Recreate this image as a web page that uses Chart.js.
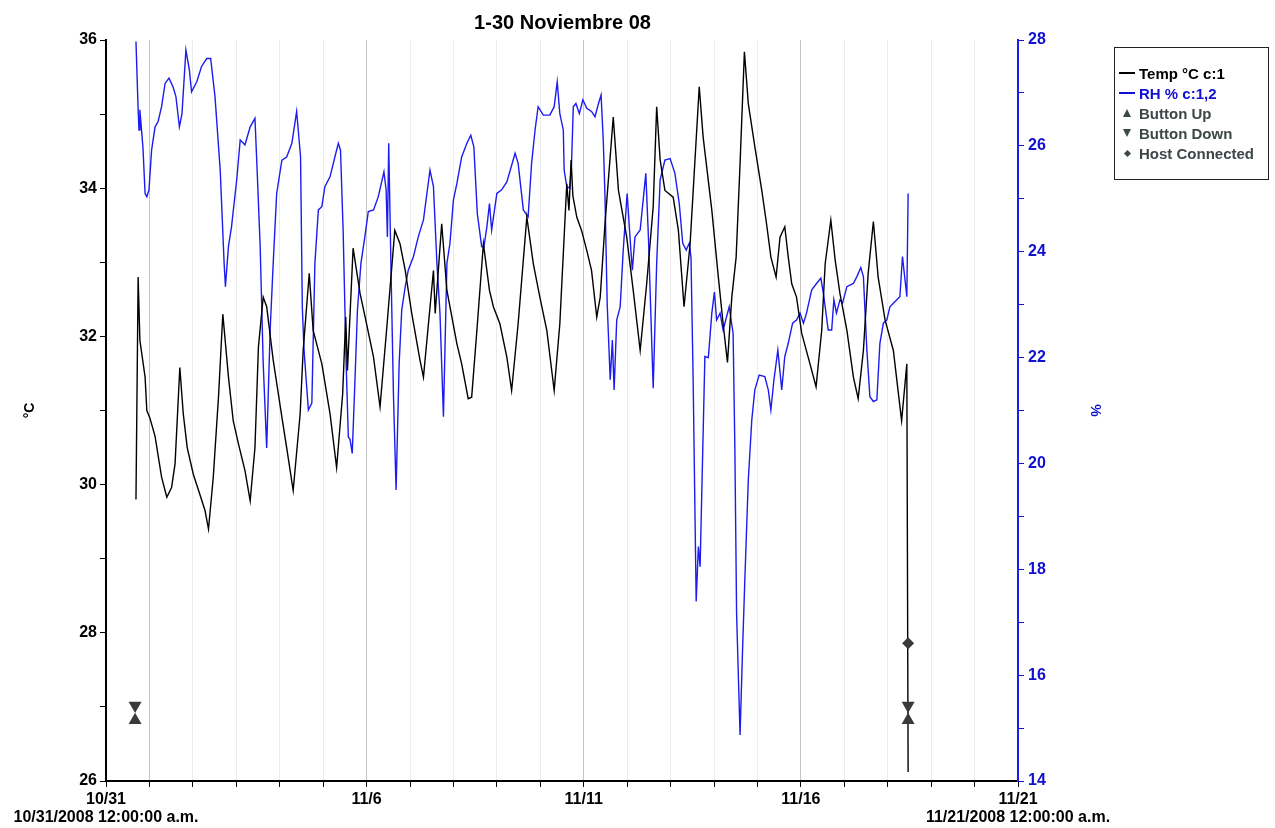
<!DOCTYPE html>
<html>
<head>
<meta charset="utf-8">
<title>1-30 Noviembre 08</title>
<script src="https://cdn.jsdelivr.net/npm/chart.js@4.4.1/dist/chart.umd.min.js"></script>
<style>
  body { margin: 0; background: #fff; }
  #wrap { position: relative; width: 1275px; height: 828px; }
  #legend {
    position: absolute; left: 1114px; top: 47px; width: 155px; height: 133px;
    box-sizing: border-box; border: 1px solid #222; padding-top: 15px;
    font: bold 15px "Liberation Sans", Arial, sans-serif;
  }
  .row { display: flex; align-items: center; height: 20px; white-space: nowrap; }
  .sym { width: 24px; display: flex; justify-content: center; align-items: center; }
  .dash { width: 16px; height: 2px; }
  .tri-up { width: 0; height: 0; border-left: 4px solid transparent; border-right: 4px solid transparent; border-bottom: 8px solid #3d4747; }
  .tri-down { width: 0; height: 0; border-left: 4px solid transparent; border-right: 4px solid transparent; border-top: 8px solid #3d4747; }
  .diamond { width: 5px; height: 5px; background: #3d4747; transform: rotate(45deg); }
</style>
</head>
<body>
<div id="wrap">
  <canvas id="loggerChart" width="1275" height="828"></canvas>
  <div id="legend">
    <div class="row" style="color:#000"><span class="sym"><span class="dash" style="background:#000"></span></span>Temp °C c:1</div>
    <div class="row" style="color:#1010d0"><span class="sym"><span class="dash" style="background:#1010d0"></span></span>RH % c:1,2</div>
    <div class="row" style="color:#3d4747"><span class="sym"><span class="tri-up"></span></span>Button Up</div>
    <div class="row" style="color:#3d4747"><span class="sym"><span class="tri-down"></span></span>Button Down</div>
    <div class="row" style="color:#3d4747"><span class="sym"><span class="diamond"></span></span>Host Connected</div>
  </div>
</div>
<script>
// x values are days elapsed since 10/31/2008 12:00:00 a.m.
const tempDays = [0.69, 0.74, 0.78, 0.90, 0.94, 1.01, 1.13, 1.28, 1.40, 1.51,
  1.59, 1.70, 1.78, 1.87, 2.01, 2.16, 2.28, 2.36, 2.47, 2.59,
  2.69, 2.82, 2.93, 3.05, 3.20, 3.32, 3.43, 3.51, 3.62, 3.70,
  3.85, 4.05, 4.16, 4.31, 4.47, 4.54, 4.68, 4.77, 4.97, 5.16,
  5.31, 5.45, 5.52, 5.56, 5.69, 5.85, 6.00, 6.16, 6.31, 6.46,
  6.65, 6.77, 6.89, 7.04, 7.23, 7.31, 7.54, 7.58, 7.73, 7.85,
  8.08, 8.19, 8.34, 8.42, 8.54, 8.69, 8.83, 8.92, 9.07, 9.23,
  9.34, 9.49, 9.69, 9.84, 9.99, 10.15, 10.32, 10.45, 10.61, 10.66,
  10.71, 10.75, 10.84, 10.95, 11.07, 11.18, 11.30, 11.38, 11.49, 11.68,
  11.80, 11.99, 12.14, 12.30, 12.45, 12.60, 12.68, 12.76, 12.87, 13.06,
  13.18, 13.31, 13.45, 13.66, 13.75, 13.95, 14.10, 14.21, 14.31, 14.41,
  14.51, 14.60, 14.70, 14.79, 14.94, 15.10, 15.21, 15.31, 15.43, 15.52,
  15.63, 15.71, 15.79, 15.90, 16.02, 16.21, 16.35, 16.48, 16.56, 16.69,
  16.79, 16.90, 17.06, 17.21, 17.32, 17.44, 17.55, 17.67, 17.78, 17.94,
  18.13, 18.22, 18.32, 18.44, 18.47];

const tempValues = [29.8, 32.8, 31.95, 31.45, 31.0, 30.9, 30.65, 30.1, 29.83, 29.96,
  30.28, 31.58, 30.95, 30.5, 30.14, 29.87, 29.65, 29.4, 30.1, 31.18,
  32.3, 31.45, 30.86, 30.55, 30.19, 29.78, 30.5, 31.86, 32.53, 32.4,
  31.68, 30.91, 30.5, 29.92, 30.95, 31.81, 32.85, 32.08, 31.63, 30.95,
  30.23, 31.23, 32.26, 31.54, 33.19, 32.58, 32.17, 31.72, 31.05, 32.08,
  33.43, 33.25, 32.89, 32.31, 31.68, 31.45, 32.89, 32.31, 33.52, 32.62,
  31.9, 31.63, 31.16, 31.18, 32.08, 33.25, 32.62, 32.4, 32.17, 31.72,
  31.27, 32.17, 33.61, 32.98, 32.53, 32.08, 31.27, 32.17, 34.06, 33.7,
  34.38, 33.9, 33.61, 33.43, 33.16, 32.89, 32.26, 32.53, 33.52, 34.96,
  33.97, 33.34, 32.62, 31.81, 32.71, 33.75, 35.1, 34.38, 33.97, 33.88,
  33.43, 32.4, 33.25, 35.37, 34.69, 33.7, 32.8, 32.17, 31.65, 32.53,
  33.07, 34.33, 35.84, 35.14, 34.56, 33.97, 33.52, 33.07, 32.8, 33.34,
  33.48, 33.07, 32.71, 32.53, 32.04, 31.63, 31.32, 32.08, 32.98, 33.57,
  33.03, 32.58, 32.08, 31.45, 31.16, 31.81, 32.85, 33.55, 32.8, 32.22,
  31.81, 31.36, 30.86, 31.63, 26.12];

const rhDays = [0.69, 0.74, 0.76, 0.78, 0.85, 0.90, 0.94, 0.99, 1.05, 1.13,
  1.20, 1.28, 1.36, 1.45, 1.54, 1.61, 1.69, 1.75, 1.84, 1.92,
  1.97, 2.09, 2.20, 2.32, 2.41, 2.51, 2.63, 2.72, 2.75, 2.82,
  2.89, 3.01, 3.09, 3.20, 3.32, 3.43, 3.48, 3.55, 3.62, 3.70,
  3.78, 3.85, 3.93, 4.05, 4.16, 4.28, 4.39, 4.48, 4.52, 4.56,
  4.66, 4.74, 4.81, 4.89, 4.97, 5.04, 5.16, 5.27, 5.35, 5.40,
  5.46, 5.53, 5.58, 5.62, 5.67, 5.73, 5.79, 5.87, 5.96, 6.04,
  6.16, 6.27, 6.40, 6.45, 6.48, 6.51, 6.56, 6.62, 6.68, 6.75,
  6.81, 6.89, 6.96, 7.08, 7.19, 7.31, 7.46, 7.54, 7.62, 7.69,
  7.77, 7.85, 7.92, 8.00, 8.08, 8.19, 8.31, 8.40, 8.47, 8.55,
  8.65, 8.70, 8.77, 8.83, 8.88, 9.00, 9.11, 9.23, 9.42, 9.49,
  9.61, 9.72, 9.80, 9.88, 9.95, 10.07, 10.22, 10.32, 10.39, 10.45,
  10.53, 10.55, 10.61, 10.68, 10.72, 10.76, 10.82, 10.90, 10.98, 11.07,
  11.18, 11.26, 11.34, 11.40, 11.45, 11.49, 11.54, 11.61, 11.66, 11.70,
  11.76, 11.84, 11.91, 12.00, 12.08, 12.12, 12.18, 12.30, 12.43, 12.49,
  12.60, 12.68, 12.76, 12.87, 12.99, 13.10, 13.20, 13.28, 13.36, 13.43,
  13.47, 13.52, 13.59, 13.64, 13.68, 13.79, 13.87, 13.95, 14.01, 14.06,
  14.14, 14.21, 14.35, 14.44, 14.48, 14.52, 14.60, 14.66, 14.71, 14.79,
  14.87, 14.94, 15.04, 15.17, 15.25, 15.31, 15.38, 15.47, 15.56, 15.63,
  15.71, 15.81, 15.90, 15.98, 16.06, 16.13, 16.25, 16.36, 16.46, 16.52,
  16.63, 16.71, 16.76, 16.82, 16.90, 16.96, 17.06, 17.21, 17.29, 17.38,
  17.44, 17.52, 17.59, 17.67, 17.75, 17.82, 17.90, 17.98, 18.05, 18.17,
  18.28, 18.34, 18.44, 18.47];

const rhValues = [27.97, 26.68, 26.3, 26.68, 25.98, 25.1, 25.04, 25.17, 25.92, 26.36,
  26.46, 26.74, 27.18, 27.28, 27.12, 26.93, 26.36, 26.61, 27.81, 27.43,
  27.02, 27.21, 27.5, 27.65, 27.65, 26.93, 25.54, 23.78, 23.34, 24.1,
  24.47, 25.36, 26.11, 26.02, 26.36, 26.52, 25.54, 24.1, 21.89, 20.29,
  22.52, 23.78, 25.1, 25.73, 25.79, 26.05, 26.65, 25.79, 22.96, 22.14,
  21.01, 21.14, 23.78, 24.79, 24.85, 25.23, 25.42, 25.79, 26.05, 25.92,
  24.41, 21.89, 20.5, 20.45, 20.19, 21.51, 22.9, 23.78, 24.28, 24.76,
  24.79, 25.04, 25.51, 25.17, 24.28, 26.05, 23.78, 21.26, 19.5, 21.89,
  22.9, 23.34, 23.65, 23.91, 24.28, 24.6, 25.54, 25.23, 23.78, 22.84,
  20.88, 23.78, 24.16, 24.98, 25.29, 25.79, 26.05, 26.2, 25.98, 24.72,
  24.1, 24.08, 24.47, 24.91, 24.41, 25.1, 25.17, 25.32, 25.86, 25.67,
  24.79, 24.66, 25.67, 26.3, 26.74, 26.58, 26.58, 26.74, 27.21, 26.61,
  26.3, 25.54, 25.23, 25.2, 25.67, 26.74, 26.8, 26.61, 26.87, 26.71,
  26.65, 26.55, 26.8, 26.96, 26.11, 25.04, 23.03, 21.58, 22.33, 21.39,
  22.71, 22.96, 24.03, 25.1, 24.1, 23.65, 24.28, 24.41, 25.48, 24.28,
  21.42, 23.78, 25.36, 25.73, 25.76, 25.48, 24.91, 24.16, 24.03, 24.16,
  23.9, 21.58, 17.39, 18.43, 18.05, 22.02, 22.0, 22.84, 23.24, 22.71,
  22.84, 22.52, 22.96, 22.46, 20.32, 17.17, 14.87, 16.54, 17.8, 19.69,
  20.82, 21.39, 21.67, 21.64, 21.39, 21.01, 21.58, 22.14, 21.39, 22.02,
  22.27, 22.65, 22.71, 22.84, 22.65, 22.84, 23.28, 23.4, 23.5, 23.21,
  22.52, 22.52, 23.09, 22.84, 23.09, 23.03, 23.34, 23.4, 23.53, 23.7,
  23.53, 22.14, 21.26, 21.17, 21.2, 22.27, 22.65, 22.71, 22.96, 23.06,
  23.15, 23.91, 23.15, 25.1];

// logger events, plotted on the temperature axis
const buttonUpDays = [0.67, 18.47];
const buttonUpValues = [26.82, 26.82];
const buttonDownDays = [0.67, 18.47];
const buttonDownValues = [27.02, 27.02];
const hostConnectedDays = [18.47];
const hostConnectedValues = [27.86];

// x axis labels (day offset -> text) and the darker day gridlines
const xLabelDays = [0, 6, 11, 16, 21];
const xLabels = [["10/31", "10/31/2008 12:00:00 a.m."], "11/6", "11/11", "11/16", ["11/21", "11/21/2008 12:00:00 a.m."]];
const majorGridDays = [1, 6, 11, 16];

const toPoints = (xs, ys) => xs.map((x, i) => ({ x: x, y: ys[i] }));

const BLUE_LINE = "#1c1cf0";
const BLUE_TEXT = "#1010d0";
const MARKER = "#3a3a3a";
const tickFont = { size: 16, weight: "bold", lineHeight: 1.15 };

Chart.defaults.font.family = '"Liberation Sans", Arial, sans-serif';

new Chart(document.getElementById("loggerChart"), {
  data: {
    datasets: [
      {
        type: "scatter", label: "Host Connected", yAxisID: "y",
        data: toPoints(hostConnectedDays, hostConnectedValues),
        pointStyle: "rectRot", pointRadius: 6, backgroundColor: MARKER, borderWidth: 0
      },
      {
        type: "scatter", label: "Button Down", yAxisID: "y",
        data: toPoints(buttonDownDays, buttonDownValues),
        pointStyle: "triangle", rotation: 180, pointRadius: 7.5, backgroundColor: MARKER, borderWidth: 0
      },
      {
        type: "scatter", label: "Button Up", yAxisID: "y",
        data: toPoints(buttonUpDays, buttonUpValues),
        pointStyle: "triangle", pointRadius: 7.5, backgroundColor: MARKER, borderWidth: 0
      },
      {
        type: "line", label: "Temp °C c:1", yAxisID: "y",
        data: toPoints(tempDays, tempValues),
        borderColor: "#000", borderWidth: 1.4, pointRadius: 0, tension: 0
      },
      {
        type: "line", label: "RH % c:1,2", yAxisID: "y2",
        data: toPoints(rhDays, rhValues),
        borderColor: BLUE_LINE, borderWidth: 1.4, pointRadius: 0, tension: 0
      }
    ]
  },
  options: {
    responsive: false,
    animation: false,
    layout: { padding: { left: 18, right: 168, top: 0, bottom: 0 } },
    plugins: {
      legend: { display: false },
      tooltip: { enabled: false },
      title: {
        display: true,
        text: "1-30 Noviembre 08",
        color: "#000",
        font: { size: 20, weight: "bold" },
        padding: { top: 11, bottom: 5 }
      }
    },
    scales: {
      x: {
        type: "linear", min: 0, max: 21,
        ticks: {
          stepSize: 1, autoSkip: false, maxRotation: 0, color: "#000", font: tickFont, padding: 3,
          callback: (v) => {
            const i = xLabelDays.indexOf(v);
            return i < 0 ? "" : xLabels[i];
          }
        },
        grid: {
          color: (c) => majorGridDays.includes(c.tick && c.tick.value) ? "#c4c4c4" : "#ececec",
          tickLength: 6, tickColor: "#000"
        },
        border: { color: "#000", width: 2 },
        afterFit: (s) => { s.height = 47; }
      },
      y: {
        position: "left", min: 26, max: 36,
        ticks: {
          stepSize: 1, autoSkip: false, color: "#000", font: tickFont, padding: 3,
          callback: (v) => (v % 2 === 0 ? String(v) : "")
        },
        grid: { drawOnChartArea: false, tickLength: 6, tickColor: "#000" },
        border: { color: "#000", width: 2 },
        title: { display: true, text: "°C", color: "#000", font: { size: 14, weight: "bold" } },
        afterFit: (s) => { s.width = 88; }
      },
      y2: {
        position: "right", min: 14, max: 28,
        ticks: {
          stepSize: 1, autoSkip: false, color: BLUE_TEXT, font: tickFont, padding: 4,
          callback: (v) => (v % 2 === 0 ? String(v) : "")
        },
        grid: { drawOnChartArea: false, tickLength: 6, tickColor: BLUE_TEXT },
        border: { color: BLUE_LINE, width: 2 },
        title: { display: true, text: "%", color: BLUE_TEXT, font: { size: 14, weight: "bold" } },
        afterFit: (s) => { s.width = 89; }
      }
    }
  }
});
</script>
</body>
</html>
